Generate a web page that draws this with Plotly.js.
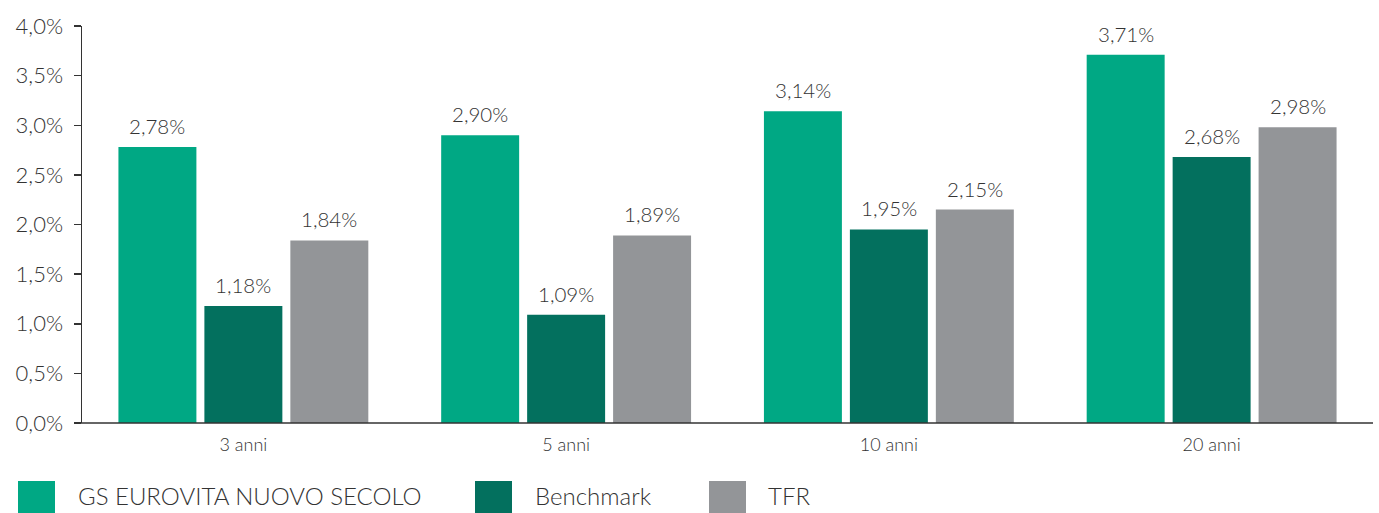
<!DOCTYPE html>
<html><head><meta charset="utf-8">
<script src="https://cdn.plot.ly/plotly-3.0.1.min.js"></script>
<style>html,body{margin:0;padding:0;background:#fff}#chart{width:1379px;height:513px}</style>
</head><body><div id="chart"></div>
<script>
const categories = ['3 anni', '5 anni', '10 anni', '20 anni'];
const seriesNames = ['GS EUROVITA NUOVO SECOLO', 'Benchmark', 'TFR'];
const gsValues = [2.78, 2.90, 3.14, 3.71];
const benchmarkValues = [1.18, 1.09, 1.95, 2.68];
const tfrValues = [1.84, 1.89, 2.15, 2.98];
const yTickValues = [0, 0.5, 1, 1.5, 2, 2.5, 3, 3.5, 4];
const yTickLabels = ['0,0%', '0,5%', '1,0%', '1,5%', '2,0%', '2,5%', '3,0%', '3,5%', '4,0%'];

const colors = ['#00A884', '#03705E', '#939598'];
const allValues = [gsValues, benchmarkValues, tfrValues];
const FONT = 'Lato, "Open Sans", sans-serif';
const TXT = '#333333';

const traces = allValues.map((vals, i) => ({
  type: 'bar', x: categories, y: vals, name: seriesNames[i],
  marker: {color: colors[i], line: {width: 0}},
  hoverinfo: 'skip', showlegend: false
}));

const annotations = [];
allValues.forEach((vals, i) => {
  vals.forEach((v, j) => {
    annotations.push({
      x: categories[j], y: v, xref: 'x', yref: 'y',
      text: v.toFixed(2).replace('.', ',') + '%',
      showarrow: false, yanchor: 'bottom', xanchor: 'center',
      xshift: (i - 1) * 86, yshift: 7,
      font: {family: FONT, size: 20.5, color: TXT, weight: 300}
    });
  });
});

// custom legend
const W = 1379 - 82 - 6, H = 513 - 26 - 90;
const px = (p) => (p - 82) / W;
const py = (p) => (513 - 90 - p) / H;
const legX = [18, 475, 709];
const legTextX = [76, 533, 766];
const shapes = [];
seriesNames.forEach((n, i) => {
  shapes.push({type: 'rect', xref: 'paper', yref: 'paper',
    x0: px(legX[i]), x1: px(legX[i] + 37), y0: py(515), y1: py(481),
    fillcolor: colors[i], line: {width: 0}});
  annotations.push({xref: 'paper', yref: 'paper', x: px(legTextX[i]), y: py(512),
    xanchor: 'left', yanchor: 'bottom', showarrow: false, text: n,
    font: {family: FONT, size: 24, color: TXT, weight: 300}});
});
// x axis line extension to the left
shapes.push({type: 'line', xref: 'paper', yref: 'paper', x0: px(75), x1: 1, y0: 0, y1: 0,
  line: {color: '#333333', width: 1.5}});

const layout = {
  width: 1379, height: 513,
  margin: {l: 82, r: 6, t: 26, b: 90, pad: 0},
  paper_bgcolor: '#ffffff', plot_bgcolor: '#ffffff',
  separators: ',.',
  barmode: 'group', bargap: 0.201, bargroupgap: 0.093,
  font: {family: FONT, color: TXT, weight: 300},
  xaxis: {type: 'category', showgrid: false, zeroline: false, showline: false, ticks: '',
    tickfont: {family: FONT, size: 18, color: TXT, weight: 300}, ticklabelstandoff: 9},
  yaxis: {range: [0, 4], tickvals: yTickValues, ticktext: yTickLabels,
    showgrid: false, zeroline: false, showline: true, linecolor: '#333333', linewidth: 1.5,
    ticks: 'outside', ticklen: 7, tickcolor: '#333333', tickwidth: 1.5,
    tickfont: {family: FONT, size: 22, color: TXT, weight: 300}, ticklabelstandoff: 6},
  showlegend: false,
  annotations: annotations, shapes: shapes
};
Plotly.newPlot('chart', traces, layout, {displayModeBar: false, staticPlot: true});
</script></body></html>
